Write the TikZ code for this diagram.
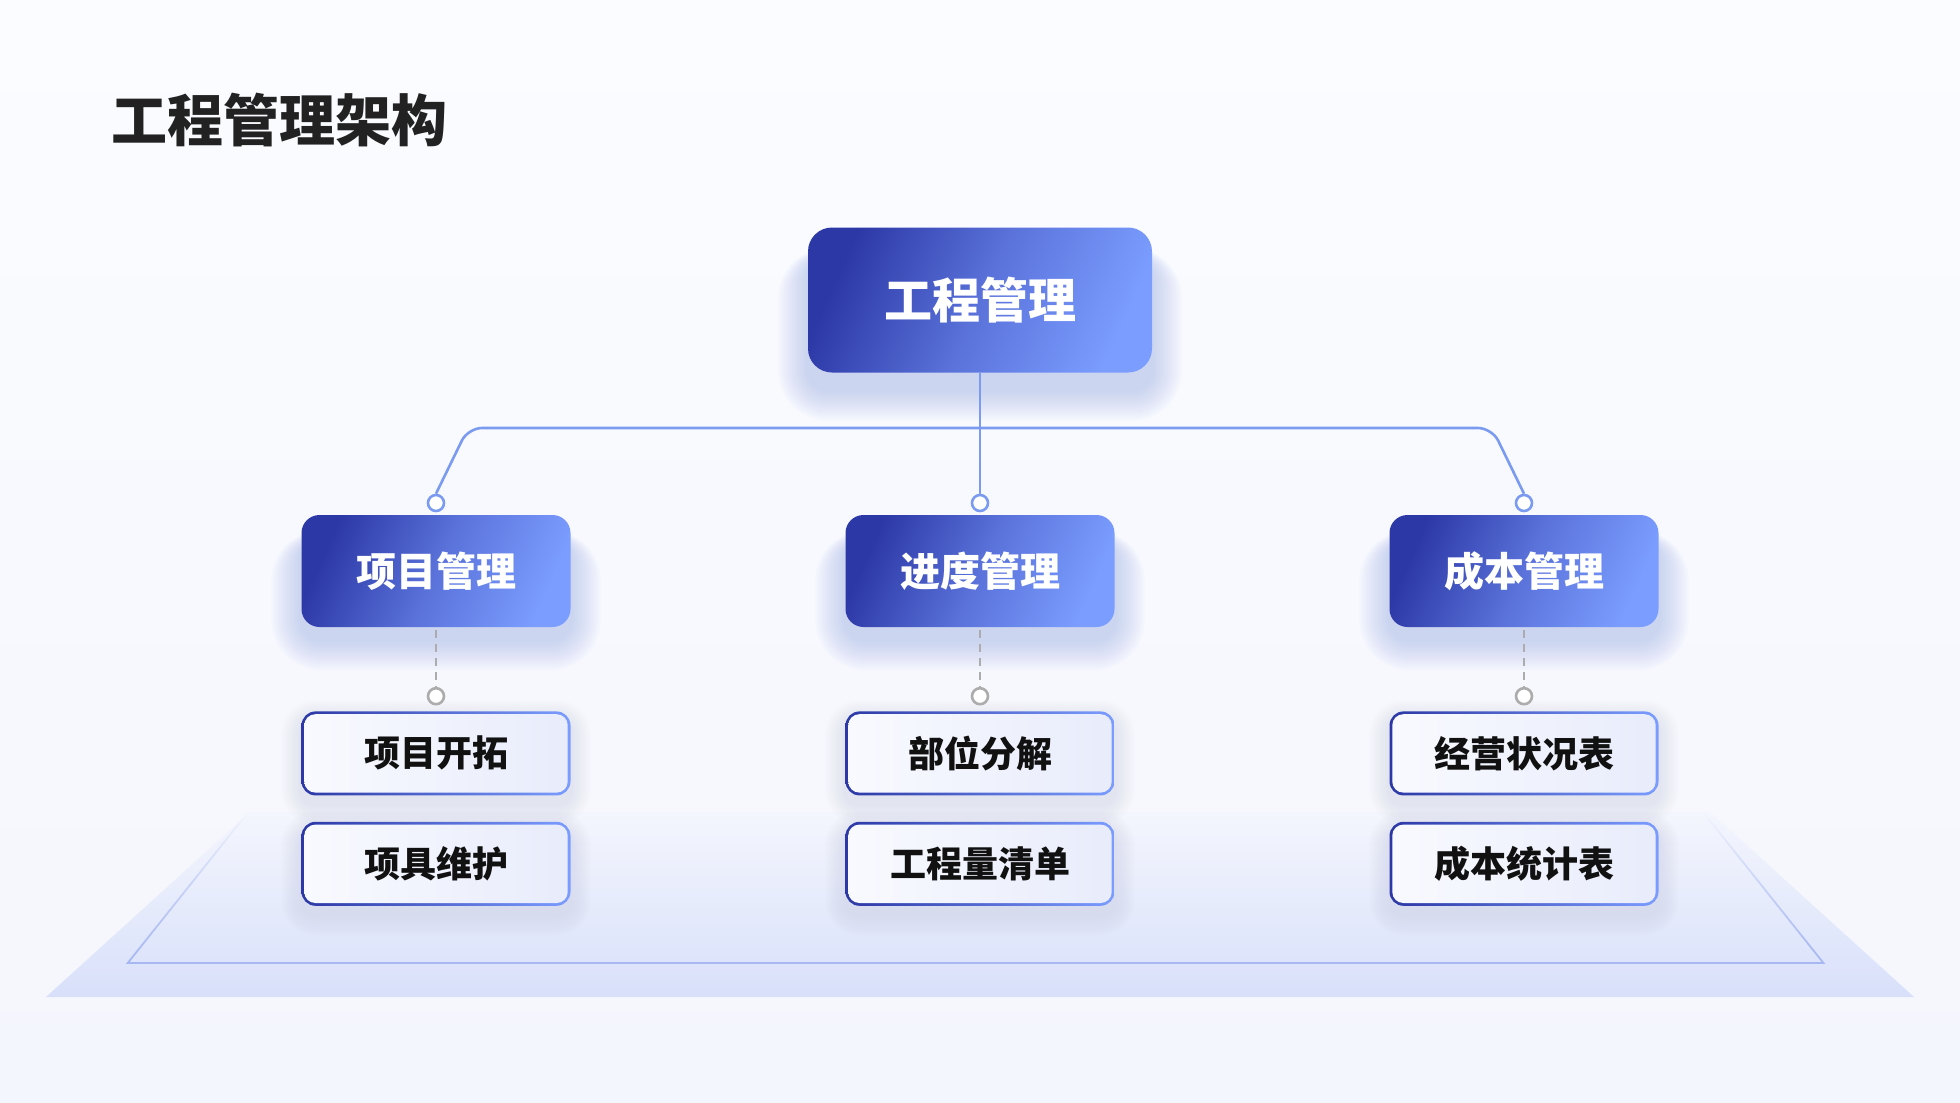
\documentclass[tikz,border=0pt]{standalone}
\usepackage{fontspec}
\newfontfamily\cjk{Noto Sans CJK SC}
\newfontfamily\cjkblack{Noto Sans CJK SC Black}
\usetikzlibrary{positioning,calc,fadings}
\definecolor{pagetop}{HTML}{FBFCFF}
\definecolor{pagebg}{HTML}{F4F6FD}
\definecolor{deepblue}{HTML}{2C38A6}
\definecolor{midblue}{HTML}{5A72DA}
\definecolor{lightblue}{HTML}{7B9DFF}
\definecolor{linkblue}{HTML}{7B9BF0}
\definecolor{glowblue}{HTML}{93A8F0}
\definecolor{shadowgrey}{HTML}{B9BDD2}
\definecolor{leafL}{HTML}{F9FAFF}
\definecolor{leafR}{HTML}{E8ECFB}
\definecolor{platform}{HTML}{D8E0FA}
\definecolor{rim}{HTML}{A6B7F2}
\definecolor{ink}{HTML}{111111}
\definecolor{titleink}{HTML}{222222}
\pgfdeclarelayer{back}\pgfdeclarelayer{glow}
\pgfsetlayers{back,glow,main}
\tikzset{
  head/.style={rounded corners=24pt, minimum width=344pt, minimum height=145pt, left color=deepblue, right color=lightblue, middle color=midblue, shading angle=66, text=white, font=\cjk\bfseries\fontsize{48}{56}\selectfont},
  branch/.style={head, rounded corners=18pt, minimum width=269pt, minimum height=112pt, font=\cjk\bfseries\fontsize{40}{48}\selectfont},
  leaf/.style={rounded corners=14pt, minimum width=269pt, minimum height=84pt, left color=deepblue, right color=lightblue, text=ink, font=\cjk\bfseries\fontsize{36}{42}\selectfont,
    path picture={\shade[left color=leafL, right color=leafR, rounded corners=11pt] ([shift={(2.8pt,-2.8pt)}]path picture bounding box.north west) rectangle ([shift={(-2.8pt,2.8pt)}]path picture bounding box.south east);}},
  link/.style={draw=linkblue, line width=2.6pt},
  dashlink/.style={draw=gray!65, line width=2.6pt, dash pattern=on 8pt off 6pt},
  bluedot/.style={circle, draw=linkblue, fill=white, line width=2.6pt, minimum size=16pt, inner sep=0pt},
  greydot/.style={bluedot, draw=gray!65}
}
\begin{document}
\begin{tikzpicture}[x=1pt,y=-1pt]
\useasboundingbox (0,0) rectangle (1960,1103);
\begin{pgfonlayer}{back}
  \shade[top color=pagetop, bottom color=pagebg] (0,0) rectangle (1960,1103);
  \shade[top color=pagebg, bottom color=platform] (250,812) -- (46,997) -- (1914,997) -- (1710,812) -- cycle;
  \draw[rim, line width=1.8pt, path fading=north] (250,813) -- (130,963) -- (1830,963) -- (1710,813);
\end{pgfonlayer}
\node[anchor=west, text=titleink, font=\cjkblack\fontsize{56}{64}\selectfont] (title) at (108,120) {工程管理架构};
% top and branches
\node[head] (root) at (980,300) {工程管理};
\node[branch] (b1) at (436,571) {项目管理};
\node[branch] (b2) at (980,571) {进度管理};
\node[branch] (b3) at (1524,571) {成本管理};
% leaves
\node[leaf, below=84pt of b1] (l11) {项目开拓};
\node[leaf, below=26pt of l11] (l12) {项具维护};
\node[leaf, below=84pt of b2] (l21) {部位分解};
\node[leaf, below=26pt of l21] (l22) {工程量清单};
\node[leaf, below=84pt of b3] (l31) {经营状况表};
\node[leaf, below=26pt of l31] (l32) {成本统计表};
\begin{pgfonlayer}{glow}
  \foreach \n/\s in {root/18,b1/13,b2/13,b3/13}
    \foreach \k in {2,4,...,30}
      \fill[glowblue, opacity=.03, rounded corners=20pt+\k pt] ([xshift=-\k pt, yshift=-\s pt-12pt+0.3*\k pt]\n.north west) rectangle ([xshift=\k pt, yshift=-\k pt-\s pt]\n.south east);
  \foreach \n in {l11,l12,l21,l22,l31,l32}
    \foreach \k in {2,4,...,20}
      \fill[shadowgrey, opacity=.028, rounded corners=14pt+\k pt] ([xshift=-\k pt, yshift=\k pt-9pt]\n.north west) rectangle ([xshift=\k pt, yshift=-\k pt-9pt]\n.south east);
\end{pgfonlayer}
% connectors
\coordinate (busL) at (468,428);
\coordinate (busR) at (1492,428);
\node[bluedot] (d1) at (436,503) {};
\node[bluedot] (d2) at (980,503) {};
\node[bluedot] (d3) at (1524,503) {};
\draw[link, rounded corners=14pt] (d1.north) -- (busL) -- (busR) -- (d3.north);
\draw[link] (root.south) -- (d2.north);
\foreach \i in {1,2,3}
  {\node[greydot] (g\i) at ($(b\i.south)+(0,-69pt)$) {};
   \draw[dashlink] ([yshift=-3pt]b\i.south) -- (g\i.north);}
\end{tikzpicture}
\end{document}
